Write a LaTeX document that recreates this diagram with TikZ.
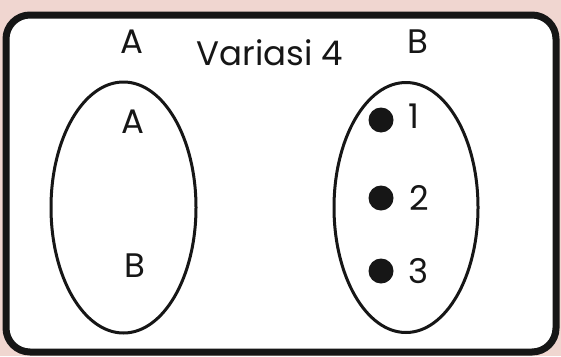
\documentclass[tikz,border=0pt]{standalone}
\usepackage{fontspec}
\setmainfont{Poppins}
\definecolor{bgpink}{RGB}{240,214,208}
\definecolor{ink}{RGB}{22,22,22}
\begin{document}
\begin{tikzpicture}[x=1pt,y=-1pt,
  lbl/.style={font=\fontsize{34}{34}\selectfont, text=ink, anchor=base, inner sep=0pt},
  setshape/.style={draw=ink, line width=3pt},
  dot/.style={circle, fill=ink, inner sep=0pt, minimum size=25pt}]
\fill[bgpink] (0,0) rectangle (561,356);
\useasboundingbox (0,0) rectangle (561,356);
\draw[ink, fill=white, line width=7pt, rounded corners=24pt] (6,15) rectangle (556,352);
\draw[setshape] (123.5,207.5) ellipse [x radius=72.5, y radius=125.5];
\draw[setshape] (406,207.5) ellipse [x radius=72, y radius=125];
\node[lbl] (tA) at (132,53) {A};
\node[lbl] (title) at (270,65) {Variasi 4};
\node[lbl] (tB) at (418,53) {B};
\node[lbl] (eA) at (133,133) {A};
\node[lbl] (eB) at (135,277) {B};
\node[dot] (d1) at (381,120) {};
\node[dot] (d2) at (381,198) {};
\node[dot] (d3) at (381,271) {};
\node[lbl] (n1) at (414,128) {1};
\node[lbl] (n2) at (419,210) {2};
\node[lbl] (n3) at (419,283) {3};
\end{tikzpicture}
\end{document}
